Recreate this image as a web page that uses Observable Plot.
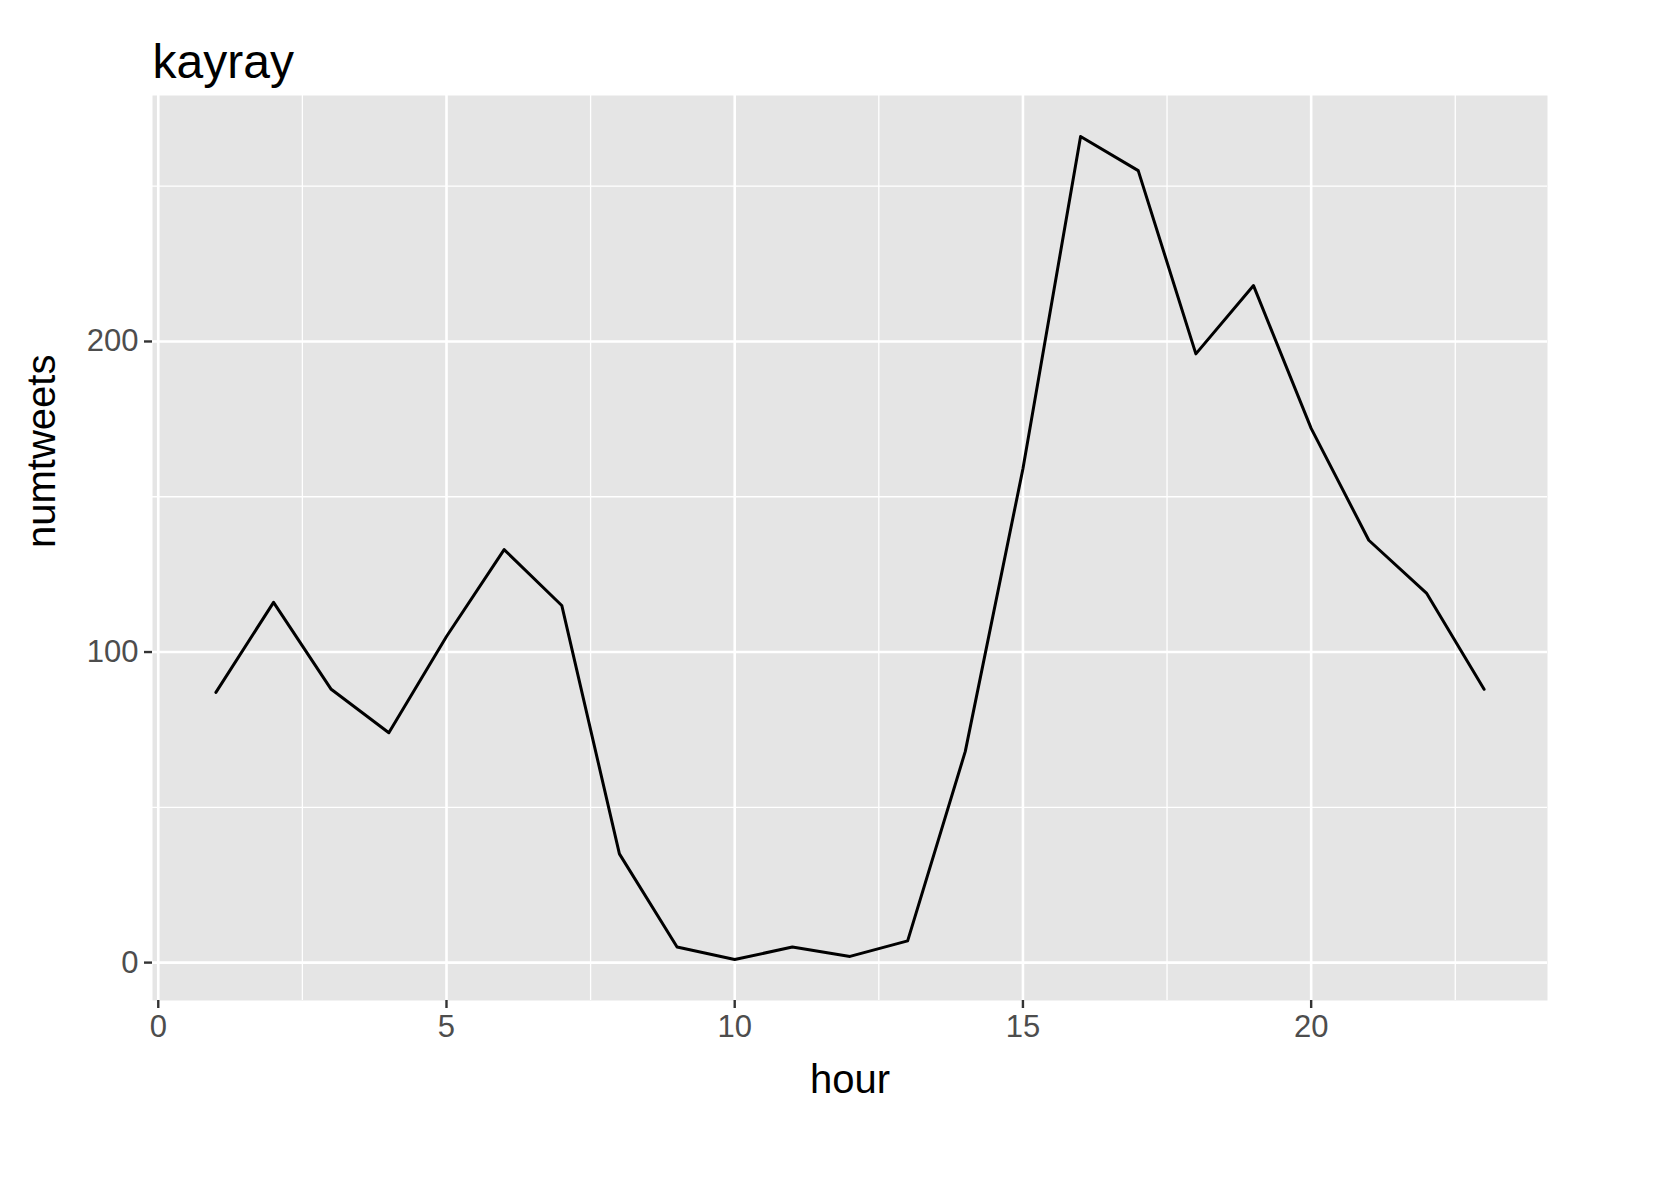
<!DOCTYPE html>
<html>
<head>
<meta charset="utf-8">
<script src="https://cdn.jsdelivr.net/npm/d3@7"></script>
<script src="https://cdn.jsdelivr.net/npm/@observablehq/plot@0.6"></script>
<style>
  body { margin: 0; background: white; }
  svg { font-family: "Liberation Sans", Arial, sans-serif; }
</style>
</head>
<body>
<div id="chart"></div>
<script>
// numtweets per hour
const hours = [1, 2, 3, 4, 5, 6, 7, 8, 9, 10, 11, 12, 13, 14, 15, 16, 17, 18, 19, 20, 21, 22, 23]
const numtweets = [87, 116, 88, 74, 105, 133, 115, 35, 5, 1, 5, 2, 7, 68, 159, 266, 255, 196, 218, 172, 136, 119, 88]
const xTicks = [0, 5, 10, 15, 20]
const xMinor = [2.5, 7.5, 12.5, 17.5, 22.5]
const yTicks = [0, 100, 200]
const yMinor = [50, 150, 250]

const data = hours.map((h, i) => ({hour: h, numtweets: numtweets[i]}))

let chart = Plot.plot({
  width: 1653,
  height: 1181,
  marginLeft: 152,
  marginRight: 106,
  marginTop: 95,
  marginBottom: 181,
  x: {domain: [-0.1, 24.1]},
  y: {domain: [-12.2, 279.2]},
  style: {fontFamily: '"Liberation Sans", Arial, sans-serif', background: "white"},
  marks: [
    Plot.frame({fill: "#e5e5e5", stroke: null}),
    Plot.ruleX(xMinor, {stroke: "white", strokeWidth: 1.3}),
    Plot.ruleY(yMinor, {stroke: "white", strokeWidth: 1.3}),
    Plot.ruleX(xTicks, {stroke: "white", strokeWidth: 2.6}),
    Plot.ruleY(yTicks, {stroke: "white", strokeWidth: 2.6}),
    Plot.line(data, {x: "hour", y: "numtweets", stroke: "black", strokeWidth: 3}),
    Plot.axisX(xTicks, {tickSize: 8, tickPadding: 6, fontSize: 31, fill: "#4d4d4d", stroke: "#333", strokeWidth: 2.4, label: null}),
    Plot.axisY(yTicks, {tickSize: 8, tickPadding: 6, fontSize: 31, fill: "#4d4d4d", stroke: "#333", strokeWidth: 2.4, label: null}),
    Plot.text(["hour"], {frameAnchor: "bottom", dy: 92, fontSize: 40, fill: "black"}),
    Plot.text(["numtweets"], {frameAnchor: "left", dx: -110, rotate: -90, fontSize: 40, fill: "black"}),
    Plot.text(["kayray"], {frameAnchor: "top-left", dy: -52, fontSize: 48, fill: "black", textAnchor: "start"})
  ]
})

d3.select('#chart').append(() => chart)
</script>
</body>
</html>
